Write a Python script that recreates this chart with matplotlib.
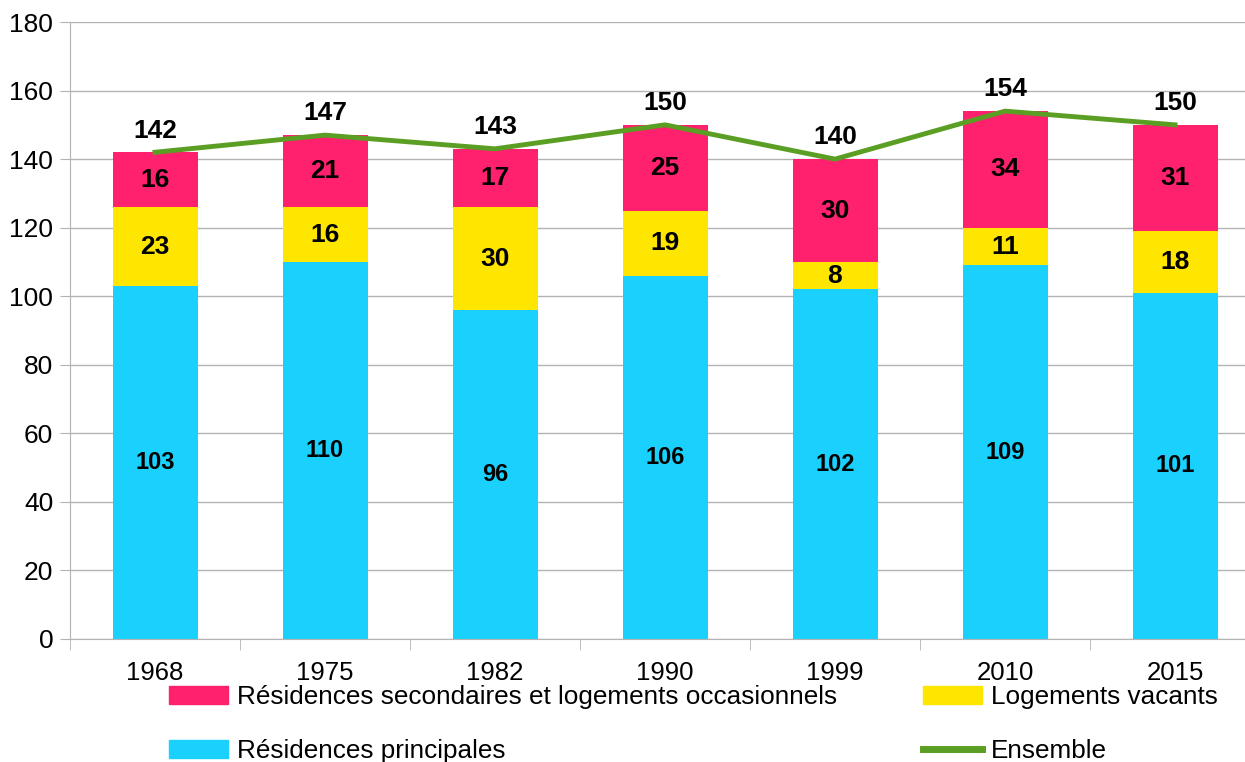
import numpy as np
import matplotlib.pyplot as plt
from matplotlib.lines import Line2D
from matplotlib.patches import Patch

years = ['1968', '1975', '1982', '1990', '1999', '2010', '2015']
principales = [103, 110, 96, 106, 102, 109, 101]
vacants = [23, 16, 30, 19, 8, 11, 18]
secondaires = [16, 21, 17, 25, 30, 34, 31]
ensemble = [142, 147, 143, 150, 140, 154, 150]

c_blue = '#1ad1fe'
c_yellow = '#ffe600'
c_red = '#ff216d'
c_green = '#5a9e23'

plt.rcParams['font.family'] = ['Liberation Sans', 'DejaVu Sans']

fig = plt.figure(figsize=(12.45, 7.62), dpi=100)
# plot area runs past the right edge of the picture, as in the reference
ax = fig.add_axes([70 / 1245, 1 - 639 / 762, 1190 / 1245, 617 / 762])

x = np.arange(len(years))
w = 0.5
p = np.array(principales)
v = np.array(vacants)
s = np.array(secondaires)

ax.bar(x, p, w, color=c_blue, zorder=2)
ax.bar(x, v, w, bottom=p, color=c_yellow, zorder=2)
ax.bar(x, s, w, bottom=p + v, color=c_red, zorder=2)
ax.plot(x, ensemble, color=c_green, lw=3.5, zorder=3)

for i in range(len(x)):
    ax.text(x[i], p[i] / 2, str(p[i]), ha='center', va='center', fontsize=17,
            fontweight='bold', family=['Liberation Sans Narrow', 'Liberation Sans'], zorder=4)
    ax.text(x[i], p[i] + v[i] / 2, str(v[i]), ha='center', va='center', fontsize=19,
            fontweight='bold', zorder=4)
    ax.text(x[i], p[i] + v[i] + s[i] / 2, str(s[i]), ha='center', va='center', fontsize=19,
            fontweight='bold', zorder=4)
    ax.annotate(str(ensemble[i]), (x[i], ensemble[i]), xytext=(0, 7),
                textcoords='offset points', ha='center', va='bottom',
                fontsize=19, fontweight='bold', zorder=4)

ax.set_xlim(-0.5, len(years) - 0.5)
ax.set_ylim(0, 180)
ax.set_yticks(range(0, 181, 20))
ax.set_xticks(x)
ax.set_xticklabels(years)
ax.set_xticks(np.arange(-0.5, len(years), 1), minor=True)
ax.tick_params(axis='x', which='major', length=0, pad=16, labelsize=18.5)
ax.tick_params(axis='x', which='minor', length=8, color='#b3b3b3')
ax.tick_params(axis='y', length=7, color='#b3b3b3', labelsize=19, pad=5)
ax.grid(axis='y', color='#b3b3b3', lw=1, zorder=0)
for side in ['top', 'right']:
    ax.spines[side].set_visible(False)
for side in ['left', 'bottom']:
    ax.spines[side].set_color('#b3b3b3')

handles = [Patch(color=c_red), Patch(color=c_blue),
           Patch(color=c_yellow), Line2D([], [], color=c_green, lw=5)]
labels = ['Résidences secondaires et logements occasionnels', 'Résidences principales',
          'Logements vacants', 'Ensemble']
fig.legend(handles, labels, ncol=2, loc='upper left', bbox_to_anchor=(169 / 1245, 1 - 685 / 762),
           frameon=False, fontsize=18.8, handlelength=2.25, handleheight=0.7,
           handletextpad=0.35, columnspacing=3.3, labelspacing=1.15, borderpad=0,
           borderaxespad=0)

fig.savefig('out.png', dpi=100)
